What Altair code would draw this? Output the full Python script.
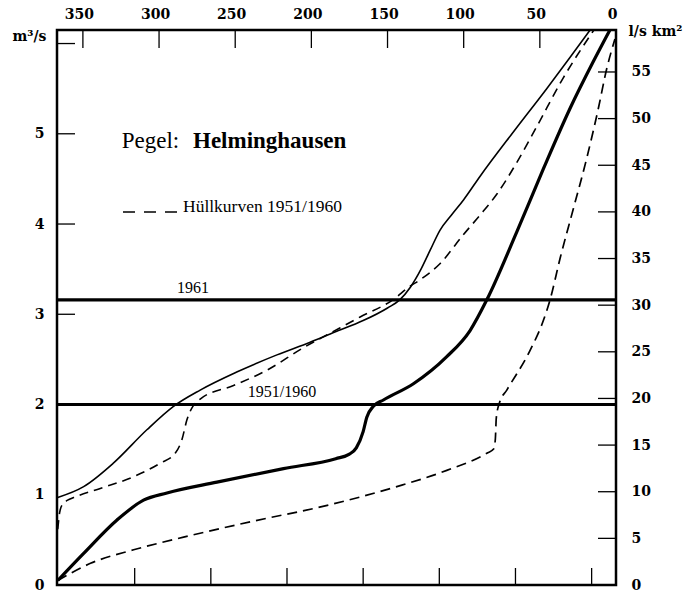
import altair as alt
import pandas as pd

# Abflussdauerlinien am Pegel Helminghausen
# Tage (Unterschreitungsdauer) und Abfluss in m³/s

# Dauerlinie 1961
kurve_1961_tage = [366.5, 349.5, 330, 308, 290.5, 273, 249, 222.6, 200.8, 185, 166, 150,
                   142, 135, 128, 122, 115.6, 108, 100, 89.2, 67.4, 45.5, 30, 17]
kurve_1961_q = [0.97, 1.09, 1.35, 1.72, 1.98, 2.16, 2.36, 2.55, 2.69, 2.80, 2.93, 3.07,
                3.16, 3.30, 3.50, 3.71, 3.93, 4.10, 4.27, 4.53, 5.02, 5.50, 5.85, 6.15]

# mittlere Dauerlinie 1951/1960
mittel_tage = [366.5, 349.5, 327.6, 310.2, 294.8, 262, 218.3, 184, 175, 170.5, 166, 163.6,
               159.3, 152.7, 133, 111.1, 95.8, 84.8, 65.2, 47.7, 30.2, 14.9, 4]
mittel_q = [0.05, 0.35, 0.72, 0.94, 1.02, 1.14, 1.29, 1.40, 1.45, 1.52, 1.70, 1.86,
            1.98, 2.05, 2.23, 2.53, 2.82, 3.16, 3.91, 4.61, 5.28, 5.80, 6.15]

# obere Hüllkurve 1951/1960
huell_oben_tage = [366.5, 365.3, 363.5, 360, 356, 338.6, 316.7, 299.2, 289.4, 285, 281.7,
                   277.4, 273, 251.1, 229.2, 205.2, 187.7, 168, 146.5, 135.3, 128.8, 115.6,
                   100.3, 89.2, 78.3, 65.2, 52, 34.6, 14.5]
huell_oben_q = [0.62, 0.80, 0.89, 0.94, 0.97, 1.07, 1.20, 1.35, 1.46, 1.61, 1.83,
                1.99, 2.06, 2.21, 2.38, 2.63, 2.79, 2.97, 3.16, 3.31, 3.38, 3.56,
                3.88, 4.10, 4.33, 4.68, 5.08, 5.62, 6.15]

# untere Hüllkurve 1951/1960
huell_unten_tage = [366.5, 345, 316.7, 283.9, 240.2, 187.7, 143.9, 111.1, 84.8, 80.2, 79.2,
                    78.6, 76.5, 71.7, 56.4, 47.7, 43.3, 36.7, 28, 19.2, 11.6, 6.1, 0.7]
huell_unten_q = [0.05, 0.24, 0.39, 0.53, 0.70, 0.89, 1.09, 1.27, 1.46, 1.51, 1.62,
                 1.85, 2.02, 2.16, 2.60, 2.93, 3.16, 3.62, 4.17, 4.73, 5.28, 5.72, 6.05]

# Mittelwasser (MQ)
mq_label = ["1951/1960", "1961"]
mq_wert = [2.0, 3.16]

# Achsteilungen
tage_ticks = [0, 50, 100, 150, 200, 250, 300, 350]
unten_ticks = [16, 66, 116, 166, 216, 266, 316]
q_ticks = [0, 1, 2, 3, 4, 5]
q_striche = [3, 4, 5, 6]
spende_ticks = [0, 5, 10, 15, 20, 25, 30, 35, 40, 45, 50, 55]

W, H = 559, 555
TICK = 18
SERIF = "Liberation Serif"
AXFONT = "DejaVu Serif"

x_scale = alt.Scale(domain=[367, 0], nice=False, zero=False)
y_scale = alt.Scale(domain=[0, 6.15], nice=False, zero=False)
y2_scale = alt.Scale(domain=[0, 59.5], nice=False, zero=False)

ax_label = dict(labelFont=AXFONT, labelFontWeight="bold", labelFontSize=14,
                labelColor="black", tickSize=0, domain=False, grid=False,
                labelFlush=False)

achse_tage = alt.Axis(orient="top", values=tage_ticks, labelPadding=12,
                      labelBaseline="alphabetic", labelOffset=-4, title=None,
                      **ax_label)
achse_q = alt.Axis(orient="left", values=q_ticks, labelPadding=13,
                   title="m³/s", titleAngle=0, titleX=-45, titleY=10,
                   titleAlign="left", titleBaseline="alphabetic",
                   titleFont=AXFONT, titleFontSize=14, titleFontWeight="bold",
                   titleColor="black", **ax_label)
achse_spende = alt.Axis(orient="right", values=spende_ticks, labelPadding=15,
                        labelAlign="left", title="l/s km²", titleAngle=0,
                        titleX=12, titleY=5, titleAlign="left",
                        titleBaseline="alphabetic", titleFont=AXFONT,
                        titleFontSize=14, titleFontWeight="bold",
                        titleColor="black", **ax_label)

X = dict(field="tage", type="quantitative", scale=x_scale, axis=achse_tage)
Y = dict(field="q", type="quantitative", scale=y_scale, axis=achse_q)


def kurve(tage, q, breite, strich=None):
    df = pd.DataFrame({"tage": tage, "q": q})
    kw = dict(color="black", strokeWidth=breite, interpolate="monotone", clip=True)
    if strich:
        kw["strokeDash"] = strich
    return alt.Chart(df).mark_line(**kw).encode(x=alt.X(**X), y=alt.Y(**Y))


# Teilstriche nach innen
oben = alt.Chart(pd.DataFrame({"tage": tage_ticks})).mark_rule(
    color="black", strokeWidth=1.3
).encode(x=alt.X(**X), y=alt.value(0), y2=alt.value(TICK))

unten = alt.Chart(pd.DataFrame({"tage": unten_ticks})).mark_rule(
    color="black", strokeWidth=1.3
).encode(x=alt.X(**X), y=alt.value(H - 17), y2=alt.value(H))

links = alt.Chart(pd.DataFrame({"q": q_striche})).mark_rule(
    color="black", strokeWidth=1.3
).encode(y=alt.Y(**Y), x=alt.value(0), x2=alt.value(TICK))

rechts = alt.Chart(pd.DataFrame({"spende": spende_ticks[1:]})).mark_rule(
    color="black", strokeWidth=1.3
).encode(
    y=alt.Y("spende:Q", scale=y2_scale, axis=achse_spende),
    x=alt.value(W - TICK), x2=alt.value(W),
)

mq_df = pd.DataFrame({"label": mq_label, "q": mq_wert})
mq_linien = alt.Chart(mq_df).mark_rule(color="black", strokeWidth=3.2).encode(
    y=alt.Y(**Y)
)


def mq_text(label, x_px, dy):
    return alt.Chart(mq_df).transform_filter(
        alt.datum.label == label
    ).mark_text(font=SERIF, fontSize=16, color="black", align="center",
                baseline="alphabetic", dy=dy).encode(
        x=alt.value(x_px), y=alt.Y(**Y), text="label:N",
    )


def text(t, x_px, y_px, size, weight="normal", font=SERIF):
    return alt.Chart(pd.DataFrame({"t": [t]})).mark_text(
        font=font, fontSize=size, fontWeight=weight, color="black",
        align="left", baseline="alphabetic"
    ).encode(x=alt.value(x_px), y=alt.value(y_px), text="t:N")


legende_strich = alt.Chart(pd.DataFrame({"t": [0]})).mark_rule(
    color="black", strokeWidth=1.6, strokeDash=[12, 9]
).encode(x=alt.value(66), x2=alt.value(120), y=alt.value(182))

links_gruppe = alt.layer(
    oben, unten, links, mq_linien,
    kurve(huell_unten_tage, huell_unten_q, 1.7, [10, 6]),
    kurve(huell_oben_tage, huell_oben_q, 1.6, [9, 6]),
    kurve(mittel_tage, mittel_q, 3.2),
    kurve(kurve_1961_tage, kurve_1961_q, 1.6),
    mq_text("1961", 136, -7),
    mq_text("1951/1960", 225, -8),
    text("Pegel:", 64.7, 117.7, 23),
    text("Helminghausen", 136, 117.7, 23, "bold"),
    legende_strich,
    text("Hüllkurven 1951/1960", 126, 182.3, 17.5),
)

chart = alt.layer(links_gruppe, rechts).resolve_scale(y="independent").properties(
    width=W, height=H,
    padding={"left": 57, "top": 30, "right": 80, "bottom": 9},
    autosize=alt.AutoSizeParams(type="none"),
    background="white",
).configure_view(stroke="black", strokeWidth=2.5)

chart.save("out.html", embed_options={"renderer": "svg", "actions": False})
